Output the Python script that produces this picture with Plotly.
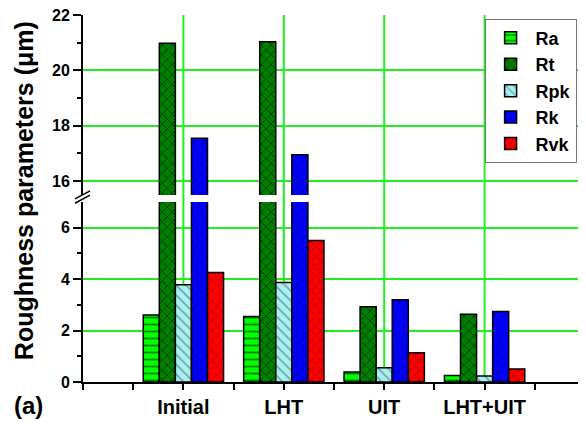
import plotly.graph_objects as go
from plotly.subplots import make_subplots

categories = ["Initial", "LHT", "UIT", "LHT+UIT"]
series_names = ["Ra", "Rt", "Rpk", "Rk", "Rvk"]
Ra = [2.61, 2.55, 0.39, 0.25]
Rt = [20.98, 21.03, 2.93, 2.63]
Rpk = [3.78, 3.87, 0.55, 0.23]
Rk = [17.55, 16.95, 3.20, 2.74]
Rvk = [4.26, 5.50, 1.14, 0.51]
values = [Ra, Rt, Rpk, Rk, Rvk]

colors = ["#00FF00", "#008000", "#A6F2F2", "#0000FF", "#FF0000"]
patterns = ["-", "x", "\\", "/", "x"]
pat_fg = ["#000000", "#000000", "#555555", "#000080", "#800000"]

FONT = "Liberation Sans"
GRID = "#22EE22"

fig = make_subplots(rows=2, cols=1, shared_xaxes=True,
                    vertical_spacing=7 / 367, row_heights=[0.5, 0.5])

xpos = list(range(1, len(categories) + 1))
for i, name in enumerate(series_names):
    for row in (1, 2):
        fig.add_trace(go.Bar(
            x=xpos, y=values[i], name=name, legendgroup=name,
            showlegend=(row == 2),
            marker=dict(color=colors[i],
                        line=dict(color="black", width=1.5),
                        pattern=dict(shape=patterns[i], fgcolor=pat_fg[i],
                                     bgcolor=colors[i], size=7, solidity=0.25)),
        ), row=row, col=1)

tickfont = dict(family=FONT, size=16, color="black", weight="bold")

fig.update_xaxes(range=[0, 5], tickvals=[0] + xpos + [5],
                 ticktext=[""] + categories + [""],
                 showgrid=False, zeroline=False, automargin=False,
                 ticklabeloverflow="allow")
fig.update_xaxes(row=2, col=1, showline=True, linecolor="black", linewidth=2,
                 ticks="outside", ticklen=6, tickwidth=2, tickcolor="black",
                 tickfont=dict(family=FONT, size=20, color="black", weight="bold"),
                 minor=dict(tickvals=[0.5, 1.5, 2.5, 3.5, 4.5], ticks="outside",
                            ticklen=6, tickwidth=2, tickcolor="black"))
fig.update_xaxes(row=1, col=1, showline=False, ticks="", showticklabels=False)

fig.update_yaxes(row=2, col=1, range=[0, 7], tickvals=[0, 2, 4, 6],
                 showline=True, linecolor="black", linewidth=2,
                 ticks="outside", ticklen=8, tickwidth=2, tickcolor="black",
                 tickfont=tickfont, showgrid=True, gridcolor=GRID, gridwidth=2,
                 zeroline=False, automargin=False, ticklabeloverflow="allow",
                 minor=dict(tickvals=[1, 3, 5], ticks="outside", ticklen=4,
                            tickwidth=2, tickcolor="black", showgrid=False))
fig.update_yaxes(row=1, col=1, range=[15.5, 22], tickvals=[16, 18, 20, 22],
                 showline=True, linecolor="black", linewidth=2,
                 ticks="outside", ticklen=8, tickwidth=2, tickcolor="black",
                 tickfont=tickfont, showgrid=True, gridcolor=GRID, gridwidth=2,
                 zeroline=False, automargin=False, ticklabeloverflow="allow",
                 minor=dict(tickvals=[17, 19, 21], ticks="outside", ticklen=4,
                            tickwidth=2, tickcolor="black", showgrid=False))

# vertical grid lines spanning both panels (through the break)
for xv in xpos + [5]:
    fig.add_shape(type="line", xref="x", yref="paper", x0=xv, x1=xv, y0=0, y1=1,
                  line=dict(color=GRID, width=2), layer="below")

# axis break marks
for dy in (0.0, 0.012):
    fig.add_shape(type="line", xref="paper", yref="paper",
                  x0=-0.016, x1=0.014, y0=0.487 + dy, y1=0.509 + dy,
                  line=dict(color="black", width=1.5))

fig.add_annotation(text="Roughness parameters (\u03bcm)", xref="paper", yref="paper",
                   x=-0.1175, y=0.52, textangle=-90, showarrow=False,
                   xanchor="center", yanchor="middle",
                   font=dict(family=FONT, size=25, color="black", weight="bold"))
fig.add_annotation(text="(a)", xref="paper", yref="paper",
                   x=-0.1414, y=-0.063, showarrow=False,
                   xanchor="left", yanchor="middle",
                   font=dict(family=FONT, size=24, color="black", weight="bold"))

fig.update_layout(
    width=578, height=416,
    margin=dict(l=75, r=1, t=7, b=42),
    paper_bgcolor="white", plot_bgcolor="white",
    barmode="group", bargap=0.2, bargroupgap=0,
    font=dict(family=FONT, size=15, color="black", weight="bold"),
    showlegend=True,
    legend=dict(x=0.80, y=0.99, xanchor="left", yanchor="top",
                bgcolor="white", bordercolor="#777777", borderwidth=1,
                font=dict(family=FONT, size=18, color="black", weight="bold"),
                tracegroupgap=0, itemwidth=40),
)

fig.write_html("out.html")
